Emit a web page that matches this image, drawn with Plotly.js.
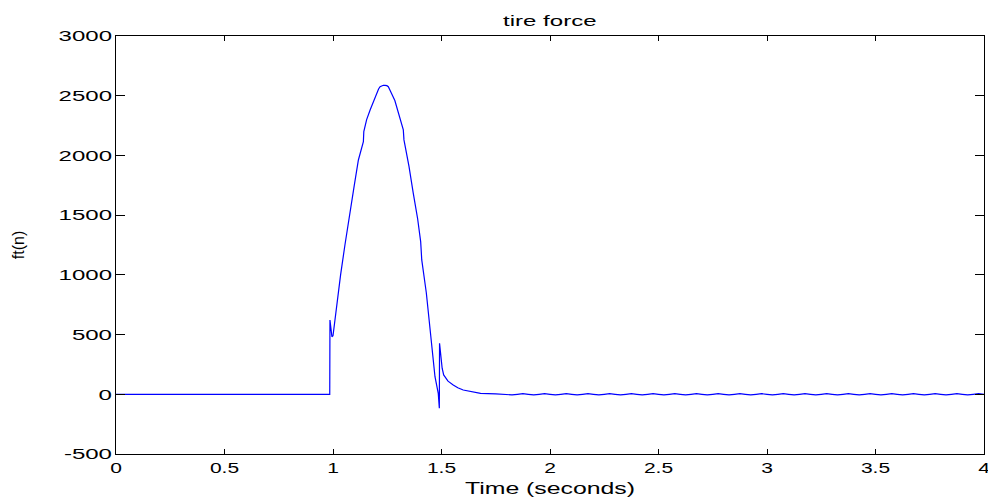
<!DOCTYPE html>
<html>
<head>
<meta charset="utf-8">
<script src="https://cdn.plot.ly/plotly-3.0.1.min.js"></script>
<style>
html,body{margin:0;padding:0;background:#fff;}
#chart{width:988px;height:498px;}
</style>
</head>
<body>
<div id="chart"></div>
<script>
// main pulse (seconds, newtons)
const pulseTime = [0, 0.985, 0.986, 0.995, 1.000, 1.005, 1.010, 1.035, 1.055, 1.075, 1.098, 1.117, 1.130, 1.140, 1.142, 1.155, 1.171, 1.190, 1.205, 1.210, 1.217, 1.225, 1.232, 1.240, 1.248, 1.255, 1.261, 1.266, 1.285, 1.301, 1.324, 1.327, 1.350, 1.370, 1.390, 1.404, 1.409, 1.430, 1.447, 1.460, 1.470, 1.485, 1.490, 1.491, 1.497, 1.503, 1.510, 1.530, 1.554, 1.575, 1.600, 1.647, 1.680, 1.750];
const pulseForce = [0, 0, 622, 482, 490, 566, 650, 1000, 1250, 1500, 1750, 1962, 2050, 2116, 2200, 2300, 2381, 2470, 2534, 2556, 2575, 2584, 2587, 2587, 2584, 2575, 2558, 2534, 2460, 2367, 2214, 2130, 1910, 1683, 1470, 1278, 1125, 850, 566, 330, 147, 8, -117, 427, 300, 218, 162, 110, 78, 55, 36, 17, 8, 3];
// residual ripple
const rippleTime = [1.800,1.825,1.850,1.875,1.900,1.925,1.950,1.975,2.000,2.025,2.050,2.075,2.100,2.125,2.150,2.175,2.200,2.225,2.250,2.275,2.300,2.325,2.350,2.375,2.400,2.425,2.450,2.475,2.500,2.525,2.550,2.575,2.600,2.625,2.650,2.675,2.700,2.725,2.750,2.775,2.800,2.825,2.850,2.875,2.900,2.925,2.950,2.975,3.000,3.025,3.050,3.075,3.100,3.125,3.150,3.175,3.200,3.225,3.250,3.275,3.300,3.325,3.350,3.375,3.400,3.425,3.450,3.475,3.500,3.525,3.550,3.575,3.600,3.625,3.650,3.675,3.700,3.725,3.750,3.775,3.800,3.825,3.850,3.875,3.900,3.925,3.950,3.975,4.000];
const rippleForce = [0,-5,0,5,0,-5,0,5,0,-5,0,5,0,-5,0,5,0,-5,0,5,0,-5,0,5,0,-5,0,5,0,-5,0,5,0,-5,0,5,0,-5,0,5,0,-5,0,5,0,-5,0,5,0,-5,0,5,0,-5,0,5,0,-5,0,5,0,-5,0,5,0,-5,0,5,0,-5,0,5,0,-5,0,5,0,-5,0,5,0,-5,0,5,0,-5,0,5,0];

const xTickVals = [0, 0.5, 1, 1.5, 2, 2.5, 3, 3.5, 4];
const xTickText = ['0', '0.5', '1', '1.5', '2', '2.5', '3', '3.5', '4'];
const yTickVals = [-500, 0, 500, 1000, 1500, 2000, 2500, 3000];
const yTickText = ['-500', '0', '500', '1000', '1500', '2000', '2500', '3000'];

const titleText = 'tire force';
const xTitleText = 'Time (seconds)';
const yTitleText = 'ft(n)';

const xs = pulseTime.concat(rippleTime);
const ys = pulseForce.concat(rippleForce);

const FONT = 'Liberation Sans, Arial, Helvetica, sans-serif';

const trace = {
  x: xs, y: ys, type: 'scatter', mode: 'lines',
  line: {color: '#0000ff', width: 1.2},
  hoverinfo: 'skip'
};

const axisCommon = {
  showgrid: false, zeroline: false, showline: true, linecolor: '#000', linewidth: 1,
  ticks: 'inside', mirror: 'ticks', tickcolor: '#000', tickwidth: 1,
  tickmode: 'array', ticklabeloverflow: 'allow',
  tickfont: {family: FONT, size: 15, color: '#000'}
};

const layout = {
  width: 988, height: 498,
  margin: {l: 116, r: 4, t: 36, b: 44},
  paper_bgcolor: '#fff', plot_bgcolor: '#fff',
  showlegend: false,
  title: {text: titleText, font: {family: FONT, size: 15, color: '#000'}, x: 0.5565, xanchor: 'center', y: 0.958, yanchor: 'middle'},
  xaxis: Object.assign({}, axisCommon, {
    range: [0, 4], tickvals: xTickVals, ticktext: xTickText, ticklen: 5,
    title: {text: xTitleText, font: {family: FONT, size: 16, color: '#000'}, standoff: 7}
  }),
  yaxis: Object.assign({}, axisCommon, {
    range: [-500, 3000], tickvals: yTickVals, ticktext: yTickText, ticklen: 9,
    title: {text: yTitleText, font: {family: FONT, size: 16, color: '#000'}, standoff: 50}
  })
};

Plotly.newPlot('chart', [trace], layout, {staticPlot: true, displayModeBar: false}).then(function (gd) {
  // horizontally stretched lettering, as in the reference
  function stretch(sel, factor) {
    gd.querySelectorAll(sel).forEach(function (t) {
      const w = t.getComputedTextLength();
      if (w > 0) {
        t.setAttribute('textLength', (w * factor).toFixed(1));
        t.setAttribute('lengthAdjust', 'spacingAndGlyphs');
      }
    });
  }
  stretch('.xtick text', 1.4);
  stretch('.ytick text', 1.6);
  stretch('.gtitle', 1.6);
  stretch('.xtitle', 1.55);
});
</script>
</body>
</html>
